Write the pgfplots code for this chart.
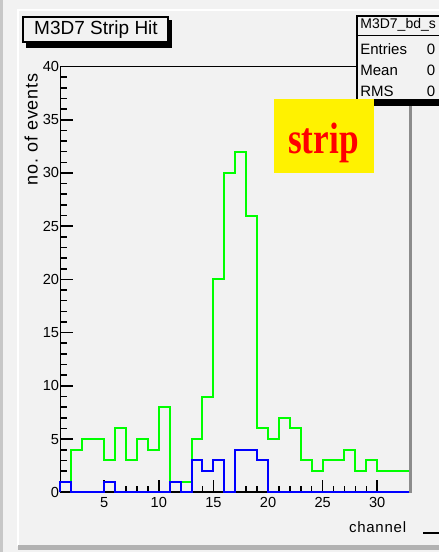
\documentclass[border=0pt]{standalone}
\usepackage{pgfplots}
\pgfplotsset{compat=1.18}
\usepackage{fontspec}
\setmainfont{Liberation Sans}
\newfontfamily\spaced{Liberation Sans}[LetterSpace=5]
\newfontfamily\serifbf{Liberation Serif}[BoldFont={Liberation Serif Bold}]

\definecolor{padbg}{HTML}{F2F2F2}
\definecolor{hgreen}{HTML}{00FF00}
\definecolor{hblue}{HTML}{0000FF}

\begin{document}
\begin{tikzpicture}[x=0.5pt,y=-0.5pt]
\useasboundingbox (0,0) rectangle (439,552);
% pad
\fill[padbg] (0,0) rectangle (439,552);
\fill[black!22] (0,0) rectangle (2.5,552);
\fill[white] (16.5,9) rectangle (19,546);
\fill[white] (16.5,9) rectangle (439,11);
\fill[black!30] (18,545) rectangle (439,549.5);

\begin{axis}[
  at={(30.25pt,-246.15pt)}, anchor=south west,
  scale only axis, width=174.75pt, height=212.9pt,
  xmin=1, xmax=33, ymin=0, ymax=40,
  axis x line*=bottom, axis y line*=left,
  axis line style={black, line width=0.9pt, -},
  tick align=inside,
  xtick={5,10,...,30}, ytick={0,5,...,40},
  minor x tick num=4, minor y tick num=4,
  major tick length=6.3pt, minor tick length=3.4pt,
  every tick/.style={black, line width=0.8pt},
  /pgf/number format/assume math mode=true,
  ticklabel style={font=\fontsize{7.3}{8}\selectfont},
  xticklabel style={inner sep=0pt, anchor=north, yshift=-2.5pt},
  yticklabel style={inner sep=0pt, anchor=east, xshift=-0.5pt},
  xlabel={channel},
  xlabel style={font=\spaced\fontsize{7.5}{8}\selectfont, at={(axis description cs:0.99,-0.068)}, anchor=north east, inner sep=0pt},
  ylabel={no.\ of\ events},
  ylabel style={font=\spaced\fontsize{9}{10}\selectfont, at={(axis description cs:-0.064,0.985)}, anchor=south east, inner sep=0pt},
  clip=false,
]
\addplot[const plot, hgreen, line width=1pt] coordinates {
(1,0)(1,1)(2,4)(3,5)(4,5)(5,3)(6,6)(7,3)(8,5)(9,4)(10,8)(11,1)(12,1)(13,5)(14,9)(15,20)(16,30)(17,32)(18,26)(19,6)(20,5)(21,7)(22,6)(23,3)(24,2)(25,3)(26,3)(27,4)(28,2)(29,3)(30,2)(31,2)(32,2)(33,2)};
\addplot[const plot, hblue, line width=1pt] coordinates {
(1,0)(1,1)(2,0)(3,0)(4,0)(5,1)(6,0)(7,0)(8,0)(9,0)(10,0)(11,1)(12,0)(13,3)(14,2)(15,3)(16,0)(17,4)(18,4)(19,3)(20,0)(21,0)(22,0)(23,0)(24,0)(25,0)(26,0)(27,0)(28,0)(29,0)(30,0)(31,0)(32,0)(33,0)};
\end{axis}

% frame top and right
\draw[black, line width=0.9pt] (60.5,66.5) -- (410.5,66.5);
\draw[black!45, line width=1.5pt] (410.8,100) -- (410.8,492.5);

% title box
\fill[black] (26,42) rectangle (171.5,48);
\fill[black] (167,20) rectangle (171.5,48);
\draw[black, line width=0.9pt, fill=padbg] (23,17) rectangle (168,42);
\node[font=\fontsize{9.5}{10}\selectfont, inner sep=0pt] at (96,29.5) {M3D7 Strip Hit};

% stats box
\begin{scope}
\clip (0,0) rectangle (439,552);
\fill[black] (362,100) rectangle (450,106);
\draw[black, line width=0.9pt, fill=padbg] (357,16) rectangle (460,100);
\draw[black, line width=0.8pt] (357,35.5) -- (460,35.5);
\node[font=\fontsize{7}{8}\selectfont, anchor=west, inner sep=0pt] at (360,25) {M3D7\_bd\_s};
\node[font=\fontsize{7.5}{8}\selectfont, anchor=west, inner sep=0pt] at (360,49) {Entries};
\node[font=\fontsize{7.5}{8}\selectfont, anchor=west, inner sep=0pt] at (360,70) {Mean};
\node[font=\fontsize{7.5}{8}\selectfont, anchor=west, inner sep=0pt] at (360,91) {RMS};
\node[font=\fontsize{7.5}{8}\selectfont, inner sep=0pt] at (431,49) {0};
\node[font=\fontsize{7.5}{8}\selectfont, inner sep=0pt] at (431,70) {0};
\node[font=\fontsize{7.5}{8}\selectfont, inner sep=0pt] at (431,91) {0};
\end{scope}

% strip label
\fill[yellow] (274,99) rectangle (374,173);
\node[font=\serifbf\bfseries\fontsize{22}{22}\selectfont, text=red, anchor=base, xscale=0.8, inner sep=0pt] at (323.5,153) {strip};

\draw[black, line width=0.8pt] (423,533) -- (439,533);
\end{tikzpicture}
\end{document}
